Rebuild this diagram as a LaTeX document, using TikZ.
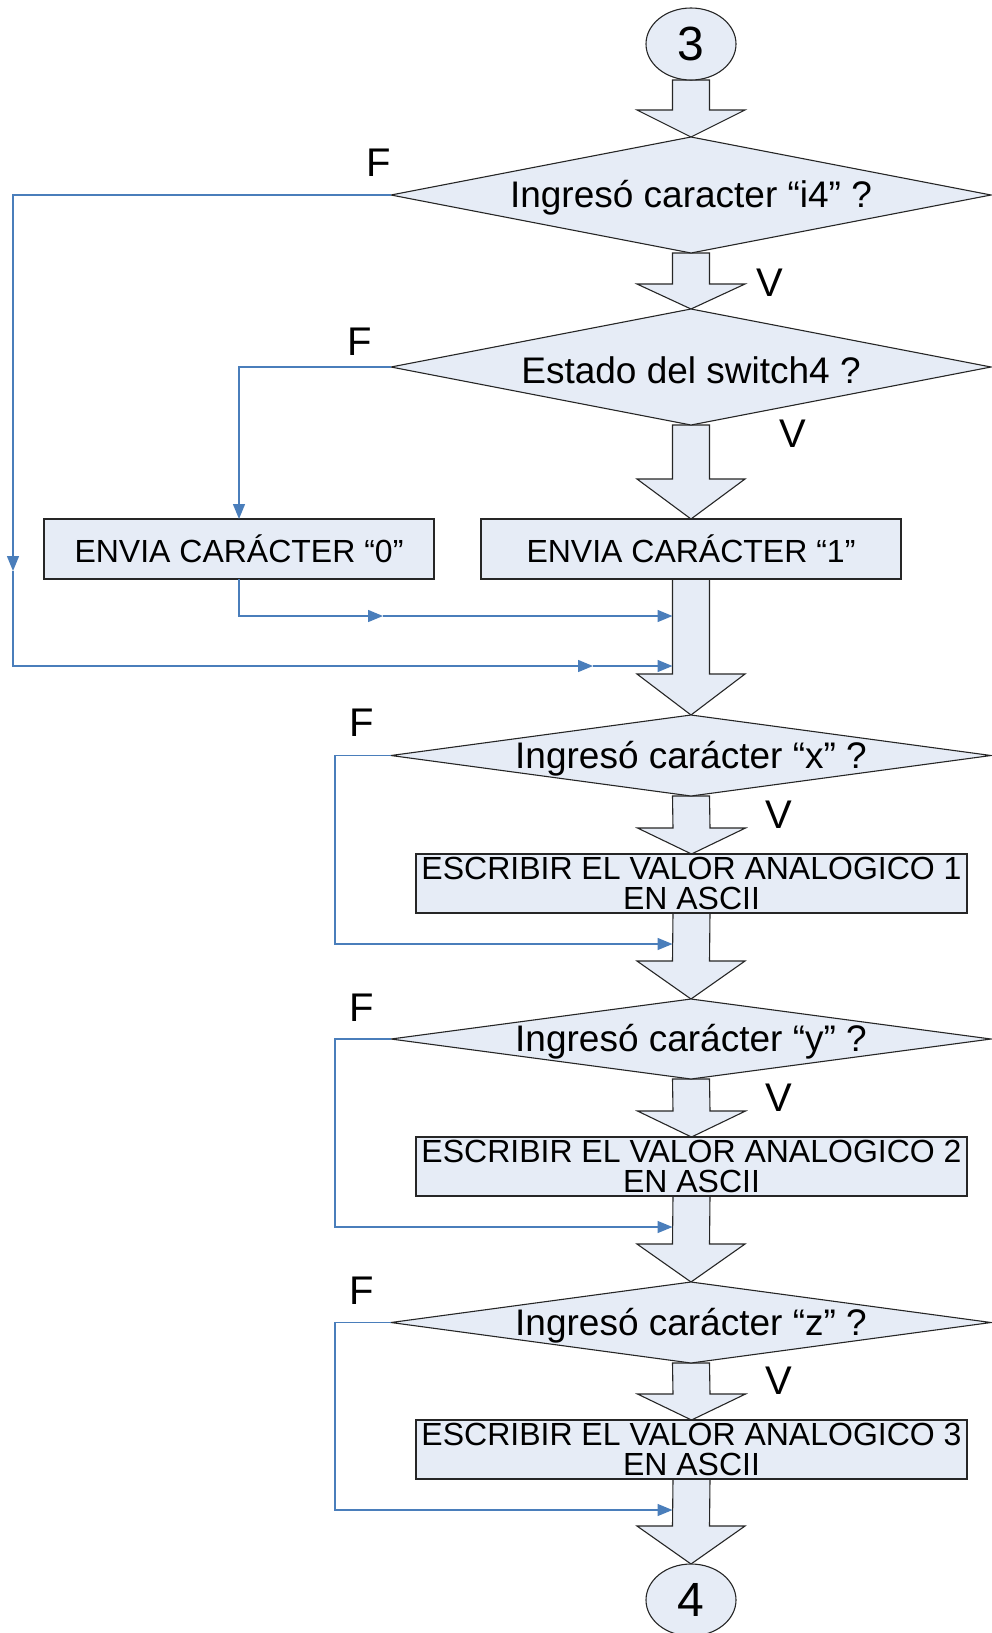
\documentclass[tikz,border=0pt]{standalone}
\usepackage{fontspec}
\setmainfont{Liberation Sans}
\usetikzlibrary{arrows.meta,calc,shapes.geometric,backgrounds}
\definecolor{boxfill}{RGB}{230,236,246}
\definecolor{flowblue}{RGB}{74,126,187}
% fat block arrow: (start)(tip)(head length)
\def\fatarrow(#1)(#2)(#3){\draw[bigarrow] ($(#1)+(-18.5,0)$) -- ($(#2)+(-18.5,-#3)$) -- ($(#2)+(-54,-#3)$) -- (#2) -- ($(#2)+(54,-#3)$) -- ($(#2)+(18.5,-#3)$) -- ($(#1)+(18.5,0)$) -- cycle;}
\tikzset{
  flowshape/.style={draw=black!85, line width=1.1pt, fill=boxfill, outer sep=0pt},
  decision/.style={flowshape, diamond, inner sep=0pt, minimum width=600pt},
  process/.style={flowshape, rectangle, inner sep=0pt, minimum height=59pt, align=center, font=\fontsize{32}{30}\selectfont},
  connector/.style={flowshape, ellipse, inner sep=0pt, minimum width=90pt, minimum height=72pt, font=\fontsize{48}{48}\selectfont},
  qtext/.style={font=\fontsize{37}{37}\selectfont, yshift=-3pt},
  tag/.style={font=\fontsize{40}{40}\selectfont},
  bigarrow/.style={draw=black!85, line width=1.1pt, fill=boxfill, line join=miter},
  flow/.style={draw=flowblue, line width=1.4pt, -{Triangle[length=15pt,width=12pt]}},
}

\begin{document}
\begin{tikzpicture}[x=1pt,y=-1pt]
		%%%%% START %%%%%
		\useasboundingbox (0,0) rectangle (992,1633);
		
		\node[connector] (c3) at (691,44) {3};
		
		\node[decision, minimum height=116pt] (d1) at (691,195) {};
		\node[qtext] (t1) at (d1) {Ingresó caracter “i4” ?};
		\node[decision, minimum height=116pt] (d2) at (691,367) {};
		\node[qtext] (t2) at (d2) {Estado del switch4 ?};
		
		\node[process, minimum width=390pt, minimum height=60pt] (b0) at (239,549) {ENVIA CARÁCTER “0”};
		\node[process, minimum width=420pt, minimum height=60pt] (b1) at (691,549) {ENVIA CARÁCTER “1”};
		
		\node[decision, minimum height=81pt] (d3) at (691,755.5) {};
		\node[qtext] (t3) at (d3) {Ingresó carácter “x” ?};
		\node[process, minimum width=551pt] (b2) at (691.5,883.5) {ESCRIBIR EL VALOR ANALOGICO 1\\EN ASCII};
		
		\node[decision, minimum height=80pt] (d4) at (691,1039) {};
		\node[qtext] (t4) at (d4) {Ingresó carácter “y” ?};
		\node[process, minimum width=551pt] (b3) at (691.5,1166.5) {ESCRIBIR EL VALOR ANALOGICO 2\\EN ASCII};
		
		\node[decision, minimum height=81pt] (d5) at (691,1322.5) {};
		\node[qtext] (t5) at (d5) {Ingresó carácter “z” ?};
		\node[process, minimum width=551pt] (b4) at (691.5,1449.5) {ESCRIBIR EL VALOR ANALOGICO 3\\EN ASCII};
		
		\node[connector] (c4) at (691,1600) {4};
		
		% F / V tags
		\node[tag] (f1) at (379,163) {F};
		\node[tag] (f2) at (360,342) {F};
		\node[tag] (f3) at (362,723) {F};
		\node[tag] (f4) at (362,1008) {F};
		\node[tag] (f5) at (362,1291) {F};
		\node[tag] (v1) at (770,283) {V};
		\node[tag] (v2) at (793,434) {V};
		\node[tag] (v3) at (779,815) {V};
		\node[tag] (v4) at (779,1098) {V};
		\node[tag] (v5) at (779,1381) {V};
		
		% block arrows down the main column
		\begin{pgfonlayer}{background}
		\fatarrow(c3.south)(d1.north)(27)
		\fatarrow(d1.south)(d2.north)(25)
		\fatarrow(d2.south)(b1.north)(40)
		\fatarrow(b1.south)(d3.north)(41)
		\fatarrow(d3.south)(b2.north)(26)
		\fatarrow(b2.south)(d4.north)(38)
		\fatarrow(d4.south)(b3.north)(26)
		\fatarrow(b3.south)(d5.north)(38)
		\fatarrow(d5.south)(b4.north)(26)
		\fatarrow(b4.south)(c4.north)(38)
		\end{pgfonlayer}
		
		% false branches
		\coordinate (m1) at (13,571);
		\coordinate (m2) at (593,666);
		\coordinate (j1) at (672.5,666);
		\coordinate (m3) at (383,616);
		\coordinate (j3) at (672.5,616);
		\coordinate (j4) at (672.5,944);
		\coordinate (j5) at (672.5,1227);
		\coordinate (j6) at (672.5,1510);
		
		\draw[flow] (d1.west) -| (m1);
		\draw[flow] (m1) |- (m2);
		\draw[flow] (m2) -- (j1);
		
		\draw[flow] (d2.west) -| (b0.north);
		\draw[flow] (b0.south) |- (m3);
		\draw[flow] (m3) -- (j3);
		
		\draw[flow] (d3.west) -- ++(-56,0) |- (j4);
		\draw[flow] (d4.west) -- ++(-56,0) |- (j5);
		\draw[flow] (d5.west) -- ++(-56,0) |- (j6);
		
		%%%%% END %%%%%
\end{tikzpicture}
\end{document}
